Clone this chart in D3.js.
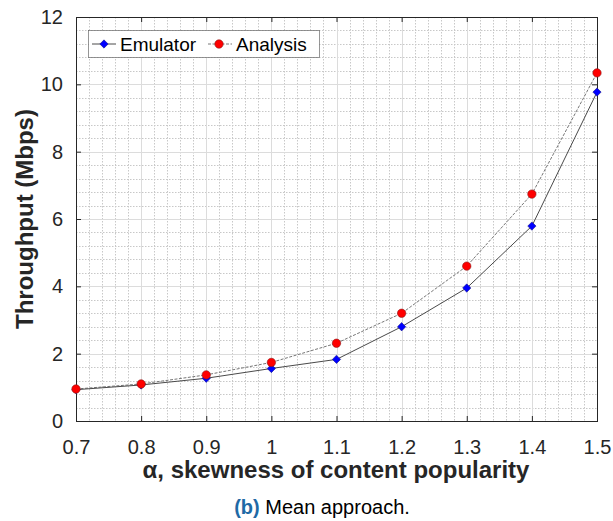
<!DOCTYPE html>
<html>
<head>
<meta charset="utf-8">
<script src="https://cdn.jsdelivr.net/npm/d3@7"></script>
<style>
  html, body { margin: 0; padding: 0; background: #fff; }
  svg text { font-family: "Liberation Sans", Arial, Helvetica, sans-serif; }
</style>
</head>
<body>
<svg id="chart" width="613" height="521"></svg>
<script>
// Skewness values on the x axis
const alphas = [0.7, 0.8, 0.9, 1.0, 1.1, 1.2, 1.3, 1.4, 1.5];
// Throughput (Mbps) per method
const emulator = [0.93, 1.07, 1.27, 1.56, 1.83, 2.80, 3.95, 5.79, 9.77];
const analysis = [0.95, 1.10, 1.37, 1.74, 2.31, 3.20, 4.60, 6.74, 10.34];
const xTicks = [0.7, 0.8, 0.9, 1.0, 1.1, 1.2, 1.3, 1.4, 1.5];
const yTicks = [0, 2, 4, 6, 8, 10, 12];
const seriesNames = ["Emulator", "Analysis"];

const svg = d3.select("#chart");
const pLeft = 76, pRight = 597, pTop = 17, pBottom = 421;

const x = d3.scaleLinear().domain([0.7, 1.5]).range([pLeft, pRight]);
const y = d3.scaleLinear().domain([0, 12]).range([pBottom, pTop]);

const grid = svg.append("g");
// minor grid (dotted)
const xMinor = d3.range(0.72, 1.5, 0.02).filter(v => Math.abs(v * 10 - Math.round(v * 10)) > 1e-6);
const yMinor = d3.range(0.4, 12, 0.4).filter(v => Math.abs(v / 2 - Math.round(v / 2)) > 1e-6);
grid.selectAll(".xm").data(xMinor).join("line")
  .attr("x1", d => Math.round(x(d)) + 0.5).attr("x2", d => Math.round(x(d)) + 0.5)
  .attr("y1", pTop).attr("y2", pBottom)
  .attr("stroke", "#c8c8c8").attr("stroke-width", 1).attr("stroke-dasharray", "1.5,1.5");
grid.selectAll(".ym").data(yMinor).join("line")
  .attr("y1", d => Math.round(y(d)) + 0.5).attr("y2", d => Math.round(y(d)) + 0.5)
  .attr("x1", pLeft).attr("x2", pRight)
  .attr("stroke", "#c8c8c8").attr("stroke-width", 1).attr("stroke-dasharray", "1.5,1.5");
// major grid (solid)
grid.selectAll(".xM").data(xTicks).join("line")
  .attr("x1", d => Math.round(x(d)) + 0.5).attr("x2", d => Math.round(x(d)) + 0.5)
  .attr("y1", pTop).attr("y2", pBottom)
  .attr("stroke", "#dcdcdc").attr("stroke-width", 1);
grid.selectAll(".yM").data(yTicks).join("line")
  .attr("y1", d => Math.round(y(d)) + 0.5).attr("y2", d => Math.round(y(d)) + 0.5)
  .attr("x1", pLeft).attr("x2", pRight)
  .attr("stroke", "#dcdcdc").attr("stroke-width", 1);

// axes with inward ticks, mirrored on top and right
const axisColor = "#262626";
function styleAxis(g) {
  g.select(".domain").remove();
  g.selectAll(".tick line").attr("stroke", axisColor);
  g.selectAll(".tick text").attr("fill", axisColor)
    .style("font-family", "'Liberation Sans', Arial, sans-serif").style("font-size", "20px");
}
svg.append("g").attr("transform", `translate(0,${pBottom})`)
  .call(d3.axisBottom(x).tickValues(xTicks).tickSizeInner(-5).tickPadding(19)
    .tickFormat(d => d3.format("")(+d.toFixed(1))))
  .call(styleAxis);
svg.append("g").attr("transform", `translate(0,${pTop})`)
  .call(d3.axisTop(x).tickValues(xTicks).tickSizeInner(-5).tickFormat(""))
  .call(styleAxis);
svg.append("g").attr("transform", `translate(${pLeft},0)`)
  .call(d3.axisLeft(y).tickValues(yTicks).tickSizeInner(-5).tickPadding(13))
  .call(styleAxis);
svg.append("g").attr("transform", `translate(${pRight},0)`)
  .call(d3.axisRight(y).tickValues(yTicks).tickSizeInner(-5).tickFormat(""))
  .call(styleAxis);
svg.append("rect").attr("x", pLeft + 0.5).attr("y", pTop + 0.5)
  .attr("width", pRight - pLeft).attr("height", pBottom - pTop)
  .attr("fill", "none").attr("stroke", axisColor).attr("stroke-width", 1);

// series lines
const line = d3.line().x((d, i) => x(alphas[i])).y(d => y(d));
svg.append("path").datum(analysis).attr("d", line)
  .attr("fill", "none").attr("stroke", "#777").attr("stroke-width", 1).attr("stroke-dasharray", "3,1.5");
svg.append("path").datum(emulator).attr("d", line)
  .attr("fill", "none").attr("stroke", "#4a4a4a").attr("stroke-width", 1);

// markers: square diamonds and circles
const diamond = d3.symbol().type(d3.symbolDiamond2 || d3.symbolDiamond).size(44);
svg.append("g").selectAll("path").data(emulator).join("path")
  .attr("transform", (d, i) => `translate(${x(alphas[i])},${y(d)})`)
  .attr("d", diamond).attr("fill", "#0000ff").attr("stroke", "#1a1a8a").attr("stroke-width", 0.6);
svg.append("g").selectAll("circle").data(analysis).join("circle")
  .attr("cx", (d, i) => x(alphas[i])).attr("cy", d => y(d)).attr("r", 4.2)
  .attr("fill", "#ff0000").attr("stroke", "#8a1a1a").attr("stroke-width", 0.6);

// legend
const lg = svg.append("g");
lg.append("rect").attr("x", 88.5).attr("y", 30.5).attr("width", 231).attr("height", 27)
  .attr("fill", "#fff").attr("stroke", "#262626").attr("stroke-width", 0.8).attr("stroke-opacity", 0.6);
const legendItems = [
  { name: seriesNames[0], lx: 92, tx: 120, shape: "d" },
  { name: seriesNames[1], lx: 208, tx: 236, shape: "c" }
];
legendItems.forEach(it => {
  const cy = 44;
  lg.append("line").attr("x1", it.lx).attr("x2", it.lx + 24).attr("y1", cy).attr("y2", cy)
    .attr("stroke", it.shape === "d" ? "#4a4a4a" : "#777").attr("stroke-width", 1)
    .attr("stroke-dasharray", it.shape === "d" ? null : "3,1.5");
  if (it.shape === "d") {
    lg.append("path").attr("transform", `translate(${it.lx + 12},${cy})`).attr("d", diamond)
      .attr("fill", "#0000ff").attr("stroke", "#1a1a8a").attr("stroke-width", 0.6);
  } else {
    lg.append("circle").attr("cx", it.lx + 11).attr("cy", cy).attr("r", 4.2)
      .attr("fill", "#ff0000").attr("stroke", "#8a1a1a").attr("stroke-width", 0.6);
  }
  lg.append("text").attr("x", it.tx).attr("y", 50.5).attr("font-size", "19px").attr("fill", "#000")
    .text(it.name);
});

// axis titles
svg.append("text").attr("x", 336).attr("y", 478).attr("text-anchor", "middle")
  .attr("font-size", "24px").attr("font-weight", "bold").attr("fill", "#262626")
  .text("α, skewness of content popularity");
svg.append("text").attr("transform", `translate(33,${(pTop + pBottom) / 2}) rotate(-90)`)
  .attr("text-anchor", "middle").attr("font-size", "24px").attr("font-weight", "bold").attr("fill", "#262626")
  .text("Throughput (Mbps)");

// caption
const cap = svg.append("text").attr("x", 322).attr("y", 514).attr("text-anchor", "middle")
  .attr("font-size", "20px").attr("fill", "#000");
cap.append("tspan").attr("font-weight", "bold").attr("fill", "#1f6aa5").text("(b)");
cap.append("tspan").text(" Mean approach.");
</script>
</body>
</html>
